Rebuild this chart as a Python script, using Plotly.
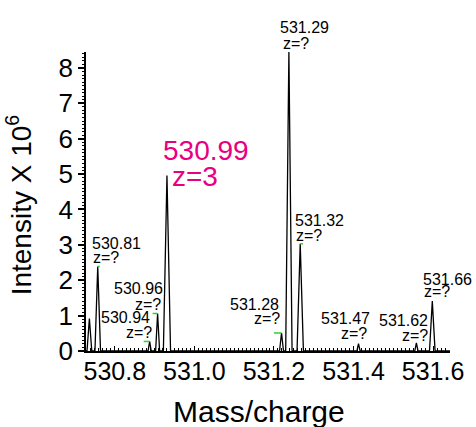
import plotly.graph_objects as go

# ---------------- data ----------------
peak_mz = [530.736, 530.757, 530.8875, 530.9075, 530.931, 531.219, 531.2375, 531.266, 531.4125, 531.558, 531.598]
peak_int = [0.92, 2.39, 0.27, 1.06, 4.96, 0.51, 8.45, 3.03, 0.21, 0.23, 1.41]
peak_halfwidth = [0.006, 0.007, 0.004, 0.005, 0.009, 0.005, 0.008, 0.008, 0.004, 0.004, 0.007]
peak_label = [None, "530.81", "530.94", "530.96", "530.99", "531.28", "531.29", "531.32", "531.47", "531.62", "531.66"]
peak_charge = [None, "z=?", "z=?", "z=?", "z=3", "z=?", "z=?", "z=?", "z=?", "z=?", "z=?"]
x_ticks = [530.8, 531.0, 531.2, 531.4, 531.6]
y_ticks = [0, 1, 2, 3, 4, 5, 6, 7, 8]

# ---------------- layout helpers ----------------
X_RANGE = [530.7275, 531.6425]
Y_RANGE = [0, 8.45]
FONT = "Liberation Sans, Arial, sans-serif"
MAGENTA = "#E8007F"
GREEN = "#33CC33"
L, R, T, B = 86, 24, 52, 76
W, H = 476, 427
PW, PH = W - L - R, H - T - B

# label placement (pixels): anchor side, (xshift, yshift) line1, (xshift, yshift) line2
label_style = [
    None,
    ("left", -7.4, 22.5, -6.4, 8.5),
    ("right", 2.7, 23.5, 4.7, 8.5),
    ("right", 7.3, 25.3, 5.7, 9.3),
    ("big", -6.0, 25.0, 3.4, -1.0),
    ("right", -0.7, 28.7, 0.3, 14.2),
    ("left", -11.3, 24.2, -7.7, 8.2),
    ("left", -7.6, 22.8, -6.6, 7.8),
    ("right", 13.7, 24.8, 10.3, 10.3),
    ("right", 13.7, 22.2, 13.7, 7.2),
    ("left", -11.3, 21.2, -10.3, 9.2),
]
# green leader ticks (pixels, dx) at peak tops
leader_px = [0, 2, -6, -5, 0, -7.7, 0, 2.7, 0, 0, 0]
PX_PER_UNIT_X = PW / (X_RANGE[1] - X_RANGE[0])

# ---------------- spectrum ----------------
xs = [X_RANGE[0]]
ys = [0]
for c, h, w in zip(peak_mz, peak_int, peak_halfwidth):
    xs += [c - w, c, c + w]
    ys += [0, h, 0]
xs.append(X_RANGE[1])
ys.append(0)

fig = go.Figure()
fig.add_trace(go.Scatter(x=xs, y=ys, mode="lines",
                         line=dict(color="black", width=1.3),
                         hoverinfo="skip", showlegend=False, cliponaxis=False))

gx, gy = [], []
for c, h, d in zip(peak_mz, peak_int, leader_px):
    if d:
        gx += [c + d / PX_PER_UNIT_X, c, None]
        gy += [h, h, None]
fig.add_trace(go.Scatter(x=gx, y=gy, mode="lines", line=dict(color=GREEN, width=1.5),
                         hoverinfo="skip", showlegend=False))

annotations = []
for c, h, lab, z, st in zip(peak_mz, peak_int, peak_label, peak_charge, label_style):
    if lab is None:
        continue
    side, x1, y1, x2, y2 = st
    big = side == "big"
    for txt, xs_, ys_ in ((lab, x1, y1), (z, x2, y2)):
        annotations.append(dict(
            x=c, y=h, xref="x", yref="y", text=txt, showarrow=False,
            xanchor="left" if big else side, yanchor="middle", xshift=xs_, yshift=ys_,
            font=dict(family=FONT, size=28 if big else 16, color=MAGENTA if big else "black")))

# axis titles as annotations for precise placement
annotations.append(dict(x=(260 - L) / PW, y=-(411 - (H - B)) / PH, xref="paper", yref="paper",
                        text="Mass/charge", showarrow=False, xanchor="center", yanchor="middle",
                        font=dict(family=FONT, size=30, color="black")))
annotations.append(dict(x=(19 - L) / PW, y=((H - B) - 205) / PH, xref="paper", yref="paper",
                        text="Intensity X 10<sup>6</sup>", showarrow=False, textangle=-90,
                        xanchor="center", yanchor="middle",
                        font=dict(family=FONT, size=28, color="black")))

fig.update_layout(
    width=W, height=H,
    margin=dict(l=L, r=R, t=T, b=B),
    paper_bgcolor="white", plot_bgcolor="white",
    font=dict(family=FONT, color="black"),
    annotations=annotations,
    showlegend=False,
)
fig.update_xaxes(
    range=X_RANGE, tickvals=x_ticks, ticktext=[f"{v:.1f}" for v in x_ticks],
    showgrid=False, zeroline=False, showline=True, linecolor="black", linewidth=2,
    ticks="inside", ticklen=5, tickwidth=1.3, tickcolor="black",
    minor=dict(dtick=0.01, tick0=530.8, ticks="inside", ticklen=3, tickwidth=1, tickcolor="black", showgrid=False),
    tickfont=dict(family=FONT, size=25), ticklabelstandoff=-3,
)
fig.update_yaxes(
    range=Y_RANGE, tickvals=y_ticks, ticktext=[str(v) for v in y_ticks],
    showgrid=False, zeroline=False, showline=True, linecolor="black", linewidth=1.5,
    ticks="outside", ticklen=6, tickwidth=1.5, tickcolor="black",
    minor=dict(dtick=0.1, tick0=0, ticks="outside", ticklen=2.5, tickwidth=1, tickcolor="black", showgrid=False),
    tickfont=dict(family=FONT, size=26),
)

fig.write_html("out.html", config=dict(displayModeBar=False))
